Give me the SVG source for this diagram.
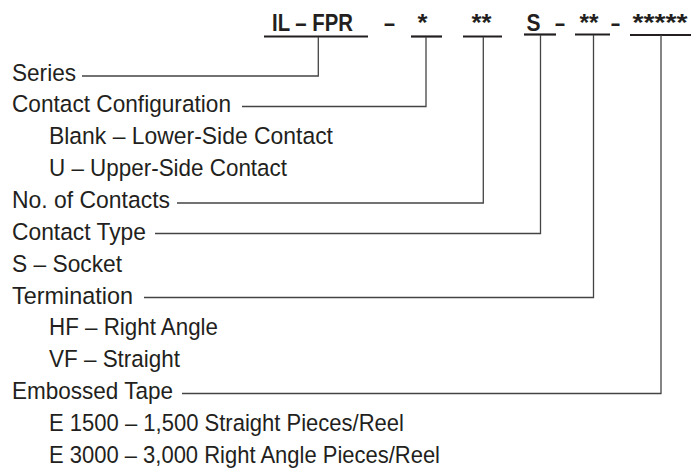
<svg xmlns="http://www.w3.org/2000/svg" width="699" height="468" viewBox="0 0 699 468">
<style>
.t{font-family:"Liberation Sans",Arial,sans-serif;font-size:24.5px;fill:#231f20}
.b{font-family:"Liberation Sans",Arial,sans-serif;font-size:24.5px;font-weight:bold;fill:#231f20}
.ul{stroke:#231f20;stroke-width:2.2;fill:none}
.c{stroke:#444;stroke-width:1.3;fill:none}
</style>
<rect width="699" height="468" fill="#fff"/>
<g id="code">
<text class="b" x="272" y="30.5" textLength="81" lengthAdjust="spacingAndGlyphs">IL – FPR</text>
<text class="b" x="384" y="30.5" textLength="11" lengthAdjust="spacingAndGlyphs">–</text>
<text class="b" x="417.5" y="31" textLength="10" lengthAdjust="spacingAndGlyphs">*</text>
<text class="b" x="471.5" y="31" textLength="20" lengthAdjust="spacingAndGlyphs">**</text>
<text class="b" x="526.5" y="30.5" textLength="14" lengthAdjust="spacingAndGlyphs">S</text>
<text class="b" x="555" y="30.5" textLength="10" lengthAdjust="spacingAndGlyphs">–</text>
<text class="b" x="579.5" y="31" textLength="19" lengthAdjust="spacingAndGlyphs">**</text>
<text class="b" x="611" y="30.5" textLength="9" lengthAdjust="spacingAndGlyphs">–</text>
<text class="b" x="632.5" y="31" textLength="55" lengthAdjust="spacingAndGlyphs">*****</text>
<line class="ul" x1="264" y1="36.5" x2="368" y2="36.5"/>
<line class="ul" x1="411" y1="36.5" x2="442" y2="36.5"/>
<line class="ul" x1="463" y1="36.5" x2="502" y2="36.5"/>
<line class="ul" x1="524" y1="34.5" x2="556" y2="34.5"/>
<line class="ul" x1="575" y1="34.5" x2="610" y2="34.5"/>
<line class="ul" x1="630" y1="35" x2="691" y2="35"/>
</g>
<g id="series"><text class="t" x="12" y="80.5" textLength="64" lengthAdjust="spacingAndGlyphs">Series</text></g>
<g id="contact-configuration">
<text class="t" x="12" y="112.4" textLength="219" lengthAdjust="spacingAndGlyphs">Contact Configuration</text>
<text class="t" x="49" y="144.2" textLength="284" lengthAdjust="spacingAndGlyphs">Blank – Lower-Side Contact</text>
<text class="t" x="49" y="176.1" textLength="238" lengthAdjust="spacingAndGlyphs">U – Upper-Side Contact</text>
</g>
<g id="no-of-contacts"><text class="t" x="12" y="207.9" textLength="158" lengthAdjust="spacingAndGlyphs">No. of Contacts</text></g>
<g id="contact-type">
<text class="t" x="12" y="239.8" textLength="134" lengthAdjust="spacingAndGlyphs">Contact Type</text>
<text class="t" x="12" y="271.6" textLength="110" lengthAdjust="spacingAndGlyphs">S – Socket</text>
</g>
<g id="termination">
<text class="t" x="12" y="303.5" textLength="121" lengthAdjust="spacingAndGlyphs">Termination</text>
<text class="t" x="49" y="335.3" textLength="169" lengthAdjust="spacingAndGlyphs">HF – Right Angle</text>
<text class="t" x="49" y="367.2" textLength="131" lengthAdjust="spacingAndGlyphs">VF – Straight</text>
</g>
<g id="embossed-tape">
<text class="t" x="12" y="399" textLength="161" lengthAdjust="spacingAndGlyphs">Embossed Tape</text>
<text class="t" x="49" y="430.9" textLength="355" lengthAdjust="spacingAndGlyphs">E 1500 – 1,500 Straight Pieces/Reel</text>
<text class="t" x="49" y="462.7" textLength="391" lengthAdjust="spacingAndGlyphs">E 3000 – 3,000 Right Angle Pieces/Reel</text>
</g>
<g id="connectors">
<polyline class="c" points="82,76 318.3,76 318.3,37"/>
<polyline class="c" points="242,106.5 426,106.5 426,37"/>
<polyline class="c" points="177,203 483.3,203 483.3,37"/>
<polyline class="c" points="155,233.5 540.5,233.5 540.5,35"/>
<polyline class="c" points="144,297.5 593.5,297.5 593.5,35"/>
<polyline class="c" points="182,393.5 661,393.5 661,35"/>
</g>
</svg>
